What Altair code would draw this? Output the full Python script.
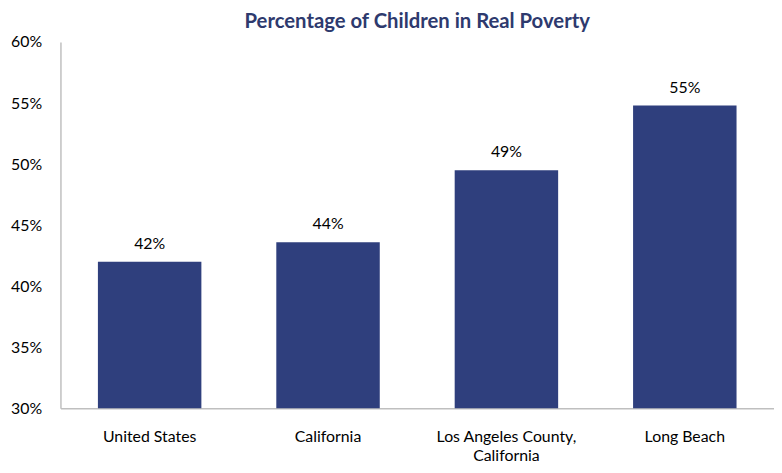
import altair as alt
import pandas as pd

categories = ["United States", "California", "Los Angeles County, California", "Long Beach"]
values = [42.0, 43.6, 49.5, 54.8]
labels = ["42%", "44%", "49%", "55%"]

df = pd.DataFrame({"cat": categories, "val": values, "lab": labels})

FONT = "Lato"
xenc = alt.X("cat:N", sort=categories, title=None,
             scale=alt.Scale(paddingInner=0.42, paddingOuter=0.21),
             axis=alt.Axis(labelAngle=0, labelFontSize=16, labelColor="#000000", labelFont=FONT,
                           ticks=False, domainColor="#BFBFBF", domainWidth=1.5, labelPadding=21,
                           labelOverlap=False,
                           labelExpr="datum.label == 'Los Angeles County, California' ? ['Los Angeles County,', 'California'] : datum.label",
                           labelLineHeight=19))

bars = alt.Chart(df).mark_bar(color="#2F3F7D").encode(
    x=xenc,
    y=alt.Y("val:Q", title=None,
            scale=alt.Scale(domain=[30, 60], nice=False, zero=False),
            axis=alt.Axis(values=[30, 35, 40, 45, 50, 55, 60], labelExpr="datum.value + '%'",
                          grid=False, ticks=False, labelFontSize=16, labelColor="#000000", labelFont=FONT,
                          domainColor="#BFBFBF", domainWidth=1.5, labelPadding=19)),
    y2=alt.datum(30),
)

text = alt.Chart(df).mark_text(baseline="bottom", dy=-10, fontSize=16, font=FONT, color="#000000").encode(
    x=alt.X("cat:N", sort=categories),
    y="val:Q",
    text="lab:N",
)

chart = (bars + text).properties(
    width=721, height=370,
    autosize=alt.AutoSizeParams(type="none"),
    padding={"left": 53, "top": 32, "right": 0, "bottom": 55},
    title=alt.TitleParams("Percentage of Children in Real Poverty", fontSize=20.5, font=FONT,
                          fontWeight="bold", color="#2E3A6E", offset=2),
).configure_view(stroke=None)

chart.save("out.html", embed_options={"renderer": "svg", "actions": False})
